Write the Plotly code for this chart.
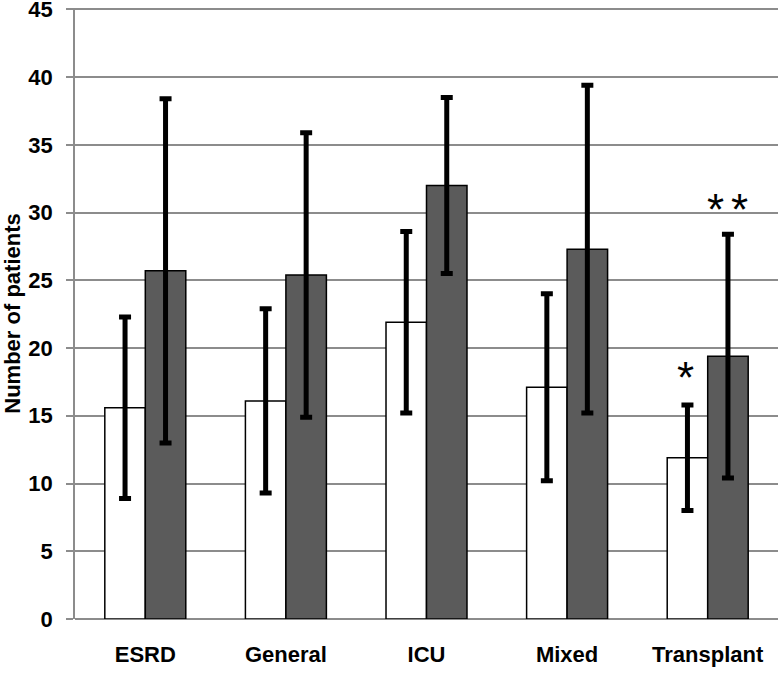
import plotly.graph_objects as go

categories = ["ESRD", "General", "ICU", "Mixed", "Transplant"]
white_values = [15.6, 16.1, 21.9, 17.1, 11.9]
white_err = [6.7, 6.8, 6.7, 6.9, 3.9]
dark_values = [25.7, 25.4, 32.0, 27.3, 19.4]
dark_err = [12.7, 10.5, 6.5, 12.1, 9.0]
y_ticks = [0, 5, 10, 15, 20, 25, 30, 35, 40, 45]
star_single_y = 18.3
star_double_y = 30.7

FONT = "Liberation Sans, Arial, sans-serif"

fig = go.Figure()
fig.add_trace(go.Bar(
    x=categories, y=white_values,
    marker=dict(color="white", line=dict(color="black", width=1.5)),
    error_y=dict(type="data", array=white_err, color="black", thickness=5, width=6),
    showlegend=False,
))
fig.add_trace(go.Bar(
    x=categories, y=dark_values,
    marker=dict(color="#5b5b5b", line=dict(color="black", width=1.5)),
    error_y=dict(type="data", array=dark_err, color="black", thickness=5, width=6),
    showlegend=False,
))

star_font = dict(family=FONT, size=44, color="black")
fig.add_annotation(x="Transplant", y=star_single_y, xref="x", yref="y",
                   text="*", showarrow=False, xshift=-22, yshift=-6, font=star_font)
fig.add_annotation(x="Transplant", y=star_double_y, xref="x", yref="y",
                   text="*", showarrow=False, xshift=8, yshift=-6, font=star_font)
fig.add_annotation(x="Transplant", y=star_double_y, xref="x", yref="y",
                   text="*", showarrow=False, xshift=32, yshift=-6, font=star_font)

fig.update_layout(
    width=780, height=675,
    margin=dict(l=75, r=2, t=7.6, b=56),
    paper_bgcolor="white", plot_bgcolor="white",
    barmode="group", bargap=0.424, bargroupgap=0,
    font=dict(family=FONT, color="black"),
    xaxis=dict(
        automargin=False,
        showgrid=False, showline=False, zeroline=False,
        ticks="", tickfont=dict(family=FONT, size=22, color="black", weight="bold"),
        ticklabelstandoff=20,
    ),
    yaxis=dict(
        automargin=False,
        range=[0, 45.1], tickvals=y_ticks,
        showgrid=True, gridcolor="#8c8c8c", gridwidth=1.5,
        showline=True, linecolor="#8c8c8c", linewidth=1.5,
        zeroline=True, zerolinecolor="#8c8c8c", zerolinewidth=1.5,
        ticks="outside", ticklen=7, tickcolor="#8c8c8c", tickwidth=1.5,
        ticklabelstandoff=9, ticklabeloverflow="allow",
        tickfont=dict(family=FONT, size=22, color="black", weight="bold"),
        title=dict(text="Number of patients", standoff=11,
                   font=dict(family=FONT, size=22, color="black", weight="bold")),
    ),
)

fig.write_html("out.html", config={"displayModeBar": False},
               post_script="document.body.style.margin='0';")
